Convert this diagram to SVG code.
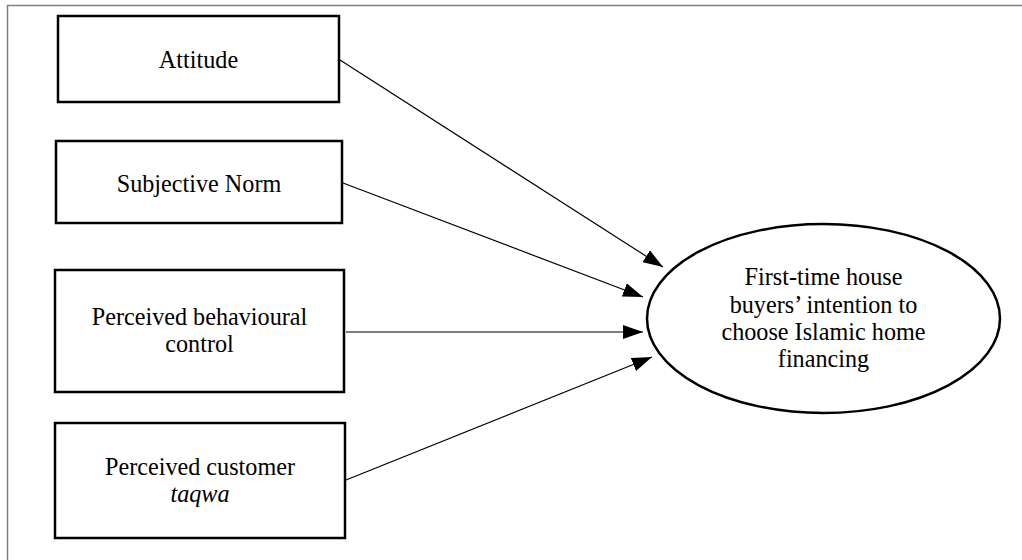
<svg xmlns="http://www.w3.org/2000/svg" width="1022" height="560" viewBox="0 0 1022 560">
<style>
.box{fill:#fff;stroke:#000;stroke-width:2.5}
.t{font-family:"Liberation Serif","Times New Roman",serif;font-size:24.2px;fill:#000;text-anchor:middle}
.c{stroke:#000;stroke-width:1.2;fill:none;marker-end:url(#ah)}
</style>
<defs>
<marker id="ah" markerWidth="20" markerHeight="14" refX="20" refY="7" orient="auto" markerUnits="userSpaceOnUse">
<path d="M0,0 L20,7 L0,14 Z" fill="#000"/>
</marker>
</defs>
<rect width="1022" height="560" fill="#fff"/>
<path d="M7.5,560 V5.5 H1022" fill="none" stroke="#808080" stroke-width="1.5"/>
<g id="connectors">
<line class="c" x1="340" y1="60" x2="663" y2="267"/>
<line class="c" x1="343" y1="183" x2="643" y2="297"/>
<line class="c" x1="346" y1="332" x2="643" y2="332"/>
<line class="c" x1="346" y1="480" x2="652" y2="357"/>
</g>
<g id="attitude">
<rect class="box" x="58" y="16" width="281" height="86"/>
<text class="t" x="198.5" y="68">Attitude</text>
</g>
<g id="subjective-norm">
<rect class="box" x="56" y="141" width="286" height="82"/>
<text class="t" x="199" y="192">Subjective Norm</text>
</g>
<g id="pbc">
<rect class="box" x="55" y="270" width="289" height="122"/>
<text class="t" x="199.5" y="325">Perceived behavioural</text>
<text class="t" x="199.5" y="352">control</text>
</g>
<g id="taqwa">
<rect class="box" x="55" y="423" width="290" height="115"/>
<text class="t" x="200" y="475">Perceived customer</text>
<text class="t" x="200" y="502" font-style="italic">taqwa</text>
</g>
<g id="intention">
<ellipse cx="823.5" cy="318.5" rx="176.5" ry="94.5" fill="#fff" stroke="#000" stroke-width="2.5"/>
<text class="t" x="823.5" y="285">First-time house</text>
<text class="t" x="823.5" y="313">buyers’ intention to</text>
<text class="t" x="823.5" y="340">choose Islamic home</text>
<text class="t" x="823.5" y="367">financing</text>
</g>
</svg>
